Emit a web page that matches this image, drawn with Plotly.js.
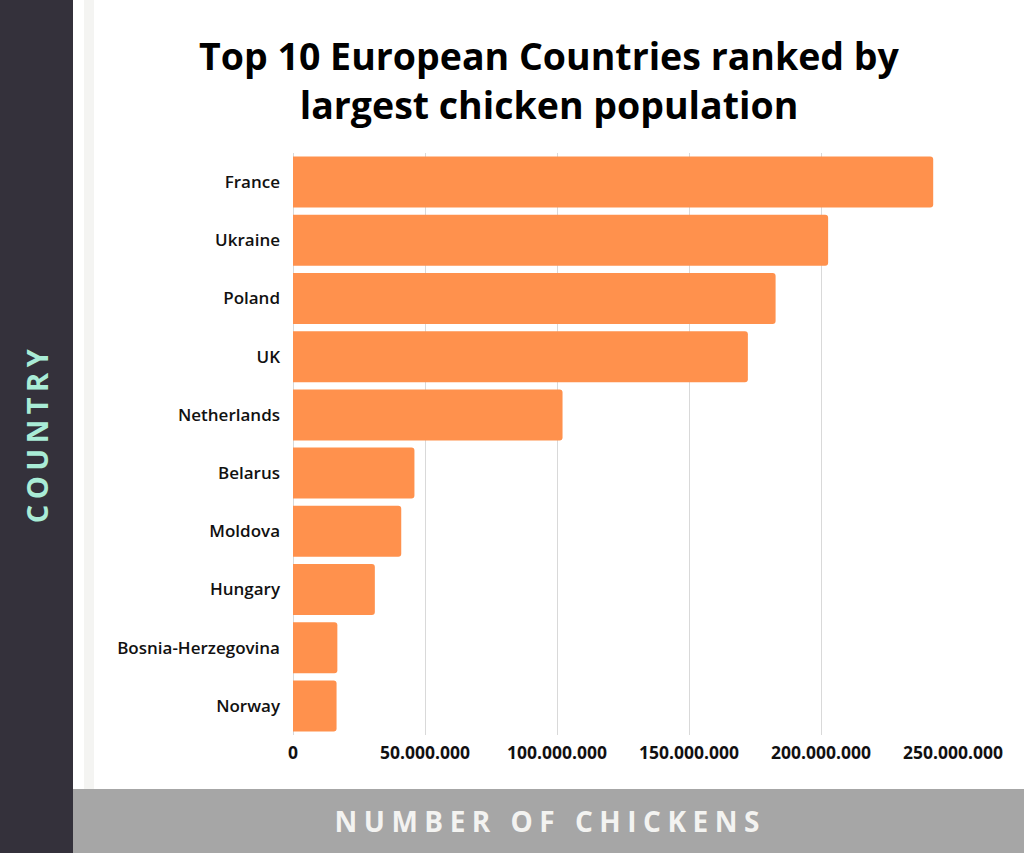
<!DOCTYPE html>
<html>
<head>
<meta charset="utf-8">
<script src="https://cdn.plot.ly/plotly-3.0.1.min.js"></script>
<style>
  html, body { margin: 0; padding: 0; background: #ffffff; }
  #chart { width: 1024px; height: 853px; }
</style>
</head>
<body>
<div id="chart"></div>
<script>
const countries = ['France', 'Ukraine', 'Poland', 'UK', 'Netherlands', 'Belarus', 'Moldova', 'Hungary', 'Bosnia-Herzegovina', 'Norway'];
const chickens = [242500000, 202700000, 182800000, 172300000, 102100000, 46000000, 41000000, 31000000, 16800000, 16500000];
const xTickVals = [0, 50000000, 100000000, 150000000, 200000000, 250000000];
const titleText = 'Top 10 European Countries ranked by<br>largest chicken population';
const yAxisLabel = 'COUNTRY';
const xAxisLabel = 'NUMBER OF CHICKENS';

// page geometry helpers (pixel -> paper coords)
const W = 1024, H = 853;
const M = { l: 293, r: 71, t: 153, b: 118 };
const pw = W - M.l - M.r, ph = H - M.t - M.b;
const px = x => (x - M.l) / pw;
const py = y => (H - M.b - y) / ph;

const trace = {
  type: 'bar',
  orientation: 'h',
  x: chickens,
  y: countries,
  marker: { color: '#ff914d', line: { width: 0 } },
  hoverinfo: 'none'
};

const layout = {
  width: W, height: H,
  margin: M,
  paper_bgcolor: '#ffffff',
  plot_bgcolor: 'rgba(0,0,0,0)',
  separators: ',.',
  showlegend: false,
  bargap: 0.124,
  barcornerradius: 3,
  font: { family: 'Open Sans, sans-serif', color: '#111111' },
  title: {
    text: titleText,
    x: 549 / W, xanchor: 'center',
    xref: 'container', yref: 'container',
    y: 1 - 70 / H, yanchor: 'top',
    font: { family: 'Open Sans, sans-serif', size: 37.5, weight: 700, color: '#000000' }
  },
  xaxis: {
    range: [0, 250000000],
    tickvals: xTickVals,
    tickformat: ',d',
    showgrid: true,
    gridcolor: '#d9d9d9',
    gridwidth: 1,
    zeroline: true,
    zerolinecolor: '#d9d9d9',
    showline: false,
    ticks: '',
    ticklabelstandoff: 5,
    tickfont: { family: 'Open Sans, sans-serif', size: 17.5, weight: 700, color: '#111111' },
    fixedrange: true
  },
  yaxis: {
    type: 'category',
    categoryorder: 'array',
    categoryarray: countries,
    autorange: 'reversed',
    showgrid: false,
    zeroline: false,
    showline: false,
    ticks: '',
    ticklabelstandoff: 12,
    tickfont: { family: 'Open Sans, sans-serif', size: 17, weight: 600, color: '#111111' },
    fixedrange: true
  },
  shapes: [
    { type: 'rect', xref: 'paper', yref: 'paper', layer: 'below',
      x0: px(0), x1: px(73), y0: py(H), y1: py(0),
      fillcolor: '#34313b', line: { width: 0 } },
    { type: 'rect', xref: 'paper', yref: 'paper', layer: 'below',
      x0: px(84), x1: px(94), y0: py(789), y1: py(0),
      fillcolor: '#f4f4f2', line: { width: 0 } },
    { type: 'rect', xref: 'paper', yref: 'paper', layer: 'below',
      x0: px(73), x1: px(W), y0: py(H), y1: py(789),
      fillcolor: '#a6a6a6', line: { width: 0 } }
  ],
  annotations: [
    { text: '<b>' + yAxisLabel + '</b>', xref: 'paper', yref: 'paper',
      x: px(36), y: py(433), xanchor: 'center', yanchor: 'middle',
      textangle: -90, showarrow: false,
      font: { family: 'Open Sans, sans-serif', size: 29, color: '#a9ecd6' } },
    { text: '<b>' + xAxisLabel + '</b>', xref: 'paper', yref: 'paper',
      x: px(550), y: py(821), xanchor: 'center', yanchor: 'middle',
      showarrow: false,
      font: { family: 'Open Sans, sans-serif', size: 28, color: '#f3f3f1' } }
  ]
};

Plotly.newPlot('chart', [trace], layout, { displayModeBar: false, staticPlot: true }).then(() => {
  document.querySelectorAll('.annotation-text').forEach(el => {
    const t = el.textContent;
    if (t === yAxisLabel) el.style.letterSpacing = '5.5px';
    if (t === xAxisLabel) el.style.letterSpacing = '6.5px';
  });
});
</script>
</body>
</html>
